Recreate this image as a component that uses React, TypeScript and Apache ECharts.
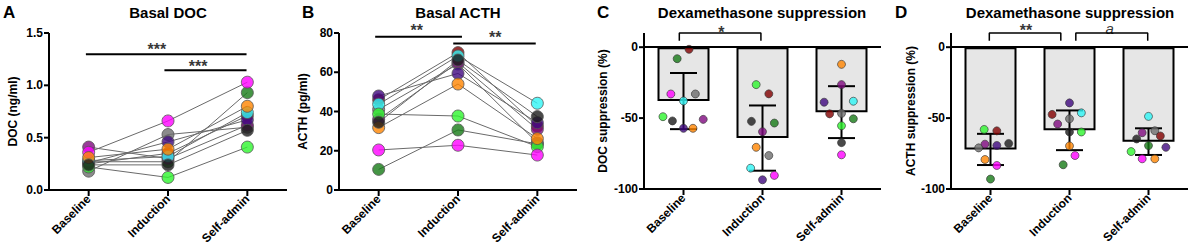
import React, { useEffect, useRef } from "react";
import * as echarts from "echarts";

const FONT = "'Liberation Sans', Arial, Helvetica, sans-serif";

const categories = ["Baseline", "Induction", "Self-admin"];
// animals: magenta, purple, indigo, orange, gray, black, cyan, light green, dark green, dark red
const animalColors = ["#ff00ff", "#7f0a7f", "#40097f", "#ff8400", "#6e6e6e", "#1c1c1c", "#2ff5f5", "#2ef52e", "#167a16", "#820000"];
const drawOrder = [8, 9, 4, 1, 2, 6, 7, 0, 3, 5];

// tick values
const docTicks = [0, 0.5, 1.0, 1.5];
const acthTicks = [0, 20, 40, 60, 80];
const suppTicks = [-100, -50, 0];

// Panel A: basal DOC (ng/ml)
const docBaseline = [0.36, 0.41, 0.26, 0.31, 0.18, 0.24, 0.28, 0.22, 0.27, 0.25];
const docInduction = [0.66, 0.30, 0.46, 0.39, 0.53, 0.24, 0.32, 0.12, 0.27, 0.35];
const docSelfAdmin = [1.03, 0.62, 0.67, 0.80, 0.60, 0.57, 0.74, 0.41, 0.93, 0.71];

// Panel B: basal ACTH (pg/ml)
const acthBaseline = [20.4, 36, 47.9, 31.8, 41, 34.5, 43.7, 38.7, 10.5, 46];
const acthInduction = [22.8, 65, 59.4, 54, 64.2, 66.2, 68.3, 37.7, 30.6, 70];
const acthSelfAdmin = [17.8, 30.9, 34.3, 26.2, 24, 37.4, 44.2, 22.1, 23.5, 32.5];

// Panel C: DOC suppression (%)
const docSuppMean = [-38.0, -64.1, -45.8];
const docSuppSd = [19.8, 23.0, 18.3];
const docSuppBaseline = [-33, -50.9, -57.2, -57.2, -33, -52, -37.9, -49, -8.1, -1.5];
const docSuppBaselineJitter = [-0.16, 0.25, 0, 0.12, 0.15, -0.14, 0, -0.26, -0.08, 0.07];
const docSuppInduction = [-90.4, -59.6, -93.5, -70.6, -76.4, -52.3, -85.3, -26.4, -53.5, -32.9];
const docSuppInductionJitter = [0.15, 0, 0, -0.08, 0.08, -0.14, -0.15, -0.08, 0.15, 0.08];
const docSuppSelfAdmin = [-75.9, -26.4, -38.8, -12.1, -46.7, -67.3, -38.1, -55.4, -50.5, -47];
const docSuppSelfAdminJitter = [0, 0, -0.22, 0, 0, 0, 0.15, 0, 0.15, -0.15];

// Panel D: ACTH suppression (%)
const acthSuppMean = [-72.1, -58.6, -66.6];
const acthSuppSd = [11.0, 14.0, 9.4];
const acthSuppBaseline = [-83.4, -68.4, -69.3, -79.2, -71, -67.9, null, -58, -93, -59];
const acthSuppBaselineJitter = [0.08, -0.07, 0.08, -0.07, -0.15, 0.23, 0, -0.08, 0, 0.08];
const acthSuppInduction = [-76.4, -54.2, -39.3, -69.6, -50.5, -59.8, -46.3, -59.8, -82.9, -47.4];
const acthSuppInductionJitter = [0.07, -0.15, 0, 0, 0, 0, 0.15, 0.15, -0.08, -0.22];
const acthSuppSelfAdmin = [-78.7, -60.3, -70.6, -78.7, -58.9, -64.7, -48.8, -73.6, -69.4, -62.6];
const acthSuppSelfAdminJitter = [-0.08, -0.08, 0.22, 0.08, 0.08, -0.15, 0, -0.22, 0, 0.15];

// significance annotations (x in category units, y in data units)
const sigA = [
  { x1: -0.035, x2: 1.99, y: 1.297, text: "***", tx: 0.86, ty: 1.34 },
  { x1: 0.955, x2: 1.99, y: 1.143, text: "***", tx: 1.38, ty: 1.18 },
];
const sigB = [
  { x1: -0.044, x2: 1.05, y: 78.1, text: "**", tx: 0.48, ty: 81.5 },
  { x1: 0.94, x2: 1.98, y: 74.7, text: "**", tx: 1.47, ty: 77.8 },
];
const sigC = [{ x1: -0.053, x2: 0.98, top: 10, leg: 4.5, text: "*", tx: 0.48, ty: 10.6, italic: false }];
const sigD = [
  { x1: -0.015, x2: 0.89, top: 10, leg: 4.5, text: "**", tx: 0.45, ty: 12.1, italic: false },
  { x1: 1.08, x2: 1.99, top: 10, leg: 4.5, text: "a", tx: 1.51, ty: 13.3, italic: true },
];

const grids = [
  { left: 49, top: 33, width: 238, height: 157 },
  { left: 339, top: 33, width: 238, height: 157 },
  { left: 644, top: 33, width: 237, height: 156 },
  { left: 951, top: 33, width: 237, height: 156 },
];
const yMins = [0, 0, -100, -100];
const yMaxs = [1.5, 80, 10, 10];
const yTickSets = [docTicks, acthTicks, suppTicks, suppTicks];

// the hidden value x-axis spans 0..3, so category index c sits at c + 0.5
const HALF = 0.5;

function catAxis(g: number, onZeroIdx?: number) {
  const axisLine: any = { show: false, onZero: true };
  if (onZeroIdx !== undefined) axisLine.onZeroAxisIndex = onZeroIdx;
  return {
    type: "category",
    gridIndex: g,
    data: categories,
    axisLine,
    axisTick: { show: false },
    axisLabel: { rotate: 45, margin: 7, fontSize: 12, fontWeight: "bold", color: "#000", fontFamily: FONT },
  };
}

function valXAxis(g: number) {
  return { type: "value", gridIndex: g, min: 0, max: 3, show: false, position: "top" };
}

function yAxis(g: number, name: string, min: number, max: number, interval: number, gap: number, fmt?: (v: number) => string, custom?: number[]) {
  const label: any = { fontSize: 12, fontWeight: "bold", color: "#000", margin: 6, fontFamily: FONT };
  if (fmt) label.formatter = fmt;
  if (custom) label.customValues = custom;
  return {
    type: "value",
    gridIndex: g,
    min,
    max,
    interval,
    name,
    nameLocation: "middle",
    nameRotate: 90,
    nameGap: gap,
    nameTextStyle: { fontSize: 12, fontWeight: "bold", color: "#000", fontFamily: FONT },
    axisLine: { show: false },
    axisTick: { show: false },
    axisLabel: label,
    splitLine: { show: false },
  };
}

// hidden helper y-axis whose zero lies at the bottom of the grid (bottom x-axis anchor)
function baseYAxis(g: number) {
  return { type: "value", gridIndex: g, min: 0, max: 110, show: false };
}

function pairedSeries(g: number, b: number[], i: number[], s: number[]) {
  const out: any[] = [];
  for (let k = 0; k < b.length; k++) {
    out.push({
      type: "line",
      xAxisIndex: g,
      yAxisIndex: g,
      data: [b[k], i[k], s[k]],
      symbol: "none",
      silent: true,
      z: 2,
      lineStyle: { color: "#6a6a6a", width: 1 },
    });
  }
  const dots: any[] = [];
  [b, i, s].forEach((arr, c) => {
    drawOrder.forEach((k) => {
      dots.push({ value: [c, arr[k]], itemStyle: { color: animalColors[k], borderColor: "#555", borderWidth: 1 } });
    });
  });
  out.push({ type: "scatter", xAxisIndex: g, yAxisIndex: g, symbolSize: 12, z: 3, silent: true, data: dots });
  return out;
}

function barPanelSeries(g: number, mean: number[], sd: number[], groups: (number | null)[][], jitters: number[][]) {
  const out: any[] = [];
  out.push({
    type: "bar",
    xAxisIndex: g,
    yAxisIndex: g,
    data: mean,
    barWidth: 52,
    silent: true,
    z: 2,
    itemStyle: { color: "#e6e6e6", borderColor: "#000", borderWidth: 2 },
    markLine: {
      silent: true,
      symbol: "none",
      label: { show: false },
      lineStyle: { color: "#000", width: 2, type: "solid" },
      data: [{ yAxis: 0 }],
    },
  });
  out.push({
    type: "custom",
    xAxisIndex: g,
    yAxisIndex: g,
    silent: true,
    z: 3,
    data: mean.map((m, c) => [c, m - sd[c], m + sd[c]]),
    encode: { x: 0, y: [1, 2] },
    renderItem: (params: any, api: any) => {
      const x = api.value(0);
      const lo = api.coord([x, api.value(1)]);
      const hi = api.coord([x, api.value(2)]);
      const half = 13.5;
      const st = { stroke: "#000", lineWidth: 2 };
      return {
        type: "group",
        children: [
          { type: "line", shape: { x1: lo[0], y1: lo[1], x2: hi[0], y2: hi[1] }, style: st },
          { type: "line", shape: { x1: lo[0] - half, y1: lo[1], x2: lo[0] + half, y2: lo[1] }, style: st },
          { type: "line", shape: { x1: hi[0] - half, y1: hi[1], x2: hi[0] + half, y2: hi[1] }, style: st },
        ],
      };
    },
  });
  const dots: any[] = [];
  groups.forEach((arr, c) => {
    arr.forEach((v, k) => {
      if (v === null) return;
      dots.push({ value: [c + HALF + jitters[c][k], v], itemStyle: { color: animalColors[k], borderColor: "#333", borderWidth: 0.8 } });
    });
  });
  out.push({ type: "scatter", xAxisIndex: g + 4, yAxisIndex: g, symbolSize: 8, z: 4, silent: true, clip: false, data: dots });
  return out;
}

function sigLabel(g: number, tx: number, ty: number, text: string, italic: boolean) {
  return {
    type: "scatter",
    xAxisIndex: g + 4,
    yAxisIndex: g,
    symbolSize: 1,
    clip: false,
    silent: true,
    z: 5,
    itemStyle: { color: "rgba(0,0,0,0)" },
    data: [[tx + HALF, ty]],
    label: {
      show: true,
      position: "inside",
      formatter: text,
      fontSize: italic ? 15 : 16,
      fontWeight: italic ? "normal" : "bold",
      fontStyle: italic ? "italic" : "normal",
      color: "#000",
      fontFamily: FONT,
    },
  };
}

function sigLineSeries(g: number, sig: any[]) {
  const out: any[] = [];
  sig.forEach((s) => {
    out.push({
      type: "line",
      xAxisIndex: g + 4,
      yAxisIndex: g,
      data: [[s.x1 + HALF, s.y], [s.x2 + HALF, s.y]],
      symbol: "none",
      clip: false,
      silent: true,
      z: 5,
      lineStyle: { color: "#000", width: 2 },
    });
    out.push(sigLabel(g, s.tx, s.ty, s.text, false));
  });
  return out;
}

function sigBracketSeries(g: number, sig: any[]) {
  const out: any[] = [];
  sig.forEach((s) => {
    out.push({
      type: "line",
      xAxisIndex: g + 4,
      yAxisIndex: g,
      data: [[s.x1 + HALF, s.leg], [s.x1 + HALF, s.top], [s.x2 + HALF, s.top], [s.x2 + HALF, s.leg]],
      symbol: "none",
      clip: false,
      silent: true,
      z: 5,
      lineStyle: { color: "#000", width: 1.5 },
    });
    out.push(sigLabel(g, s.tx, s.ty, s.text, s.italic));
  });
  return out;
}

function panelText(x: number, text: string, size: number, align: string) {
  return {
    type: "text",
    x,
    y: 12,
    z: 100,
    style: { text, fontSize: size, fontWeight: "bold", fill: "#000", fontFamily: FONT, textAlign: align, textVerticalAlign: "middle" },
  };
}

const titleTexts = [
  panelText(3, "A", 17, "left"),
  panelText(168, "Basal DOC", 15, "center"),
  panelText(302, "B", 17, "left"),
  panelText(458, "Basal ACTH", 15, "center"),
  panelText(597, "C", 17, "left"),
  panelText(762, "Dexamethasone suppression", 15, "center"),
  panelText(895, "D", 17, "left"),
  panelText(1070, "Dexamethasone suppression", 15, "center"),
];

export default function App() {
  const ref = useRef<HTMLDivElement>(null);
  useEffect(() => {
    if (!ref.current) return;
    const chart = echarts.init(ref.current, undefined, { renderer: "svg" });
    const option: any = {
      animation: false,
      textStyle: { fontFamily: FONT },
      grid: grids,
      xAxis: [catAxis(0), catAxis(1), catAxis(2, 4), catAxis(3, 5), valXAxis(0), valXAxis(1), valXAxis(2), valXAxis(3)],
      yAxis: [
        yAxis(0, "DOC (ng/ml)", 0, 1.5, 0.5, 30, (v: number) => v.toFixed(1)),
        yAxis(1, "ACTH (pg/ml)", 0, 80, 20, 30),
        yAxis(2, "DOC suppression (%)", -100, 10, 50, 35, undefined, suppTicks),
        yAxis(3, "ACTH suppression (%)", -100, 10, 50, 34, undefined, suppTicks),
        baseYAxis(2),
        baseYAxis(3),
      ],
      graphic: titleTexts,
      series: [
        ...pairedSeries(0, docBaseline, docInduction, docSelfAdmin),
        ...pairedSeries(1, acthBaseline, acthInduction, acthSelfAdmin),
        ...barPanelSeries(2, docSuppMean, docSuppSd, [docSuppBaseline, docSuppInduction, docSuppSelfAdmin], [docSuppBaselineJitter, docSuppInductionJitter, docSuppSelfAdminJitter]),
        ...barPanelSeries(3, acthSuppMean, acthSuppSd, [acthSuppBaseline, acthSuppInduction, acthSuppSelfAdmin], [acthSuppBaselineJitter, acthSuppInductionJitter, acthSuppSelfAdminJitter]),
        ...sigLineSeries(0, sigA),
        ...sigLineSeries(1, sigB),
        ...sigBracketSeries(2, sigC),
        ...sigBracketSeries(3, sigD),
      ],
    };
    chart.setOption(option);

    // axis lines and ticks, positioned through the library's own scales
    const frame: any[] = [];
    const st = { stroke: "#000", lineWidth: 2 };
    grids.forEach((_, g) => {
      const finder: any = { xAxisIndex: g + 4, yAxisIndex: g };
      const tl = chart.convertToPixel(finder, [0, yMaxs[g]]) as number[];
      const br = chart.convertToPixel(finder, [3, yMins[g]]) as number[];
      if (!tl || !br) return;
      const left = tl[0];
      const top = tl[1];
      const right = br[0];
      const bottom = br[1];
      frame.push({ type: "line", z: 100, silent: true, shape: { x1: left, y1: top, x2: left, y2: bottom + 1 }, style: st });
      frame.push({ type: "line", z: 100, silent: true, shape: { x1: left - 1, y1: bottom, x2: right, y2: bottom }, style: st });
      yTickSets[g].forEach((v) => {
        const py = chart.convertToPixel({ yAxisIndex: g } as any, v) as number;
        frame.push({ type: "line", z: 100, silent: true, shape: { x1: left - 5, y1: py, x2: left, y2: py }, style: st });
      });
      categories.forEach((c, i) => {
        const px = chart.convertToPixel({ xAxisIndex: g } as any, i) as number;
        frame.push({ type: "line", z: 100, silent: true, shape: { x1: px, y1: bottom, x2: px, y2: bottom + 6 }, style: st });
      });
    });
    chart.setOption({ graphic: [...titleTexts, ...frame] });
    return () => chart.dispose();
  }, []);
  return <div ref={ref} style={{ position: "absolute", left: 0, top: 0, width: 1192, height: 251, background: "#fff" }} />;
}
